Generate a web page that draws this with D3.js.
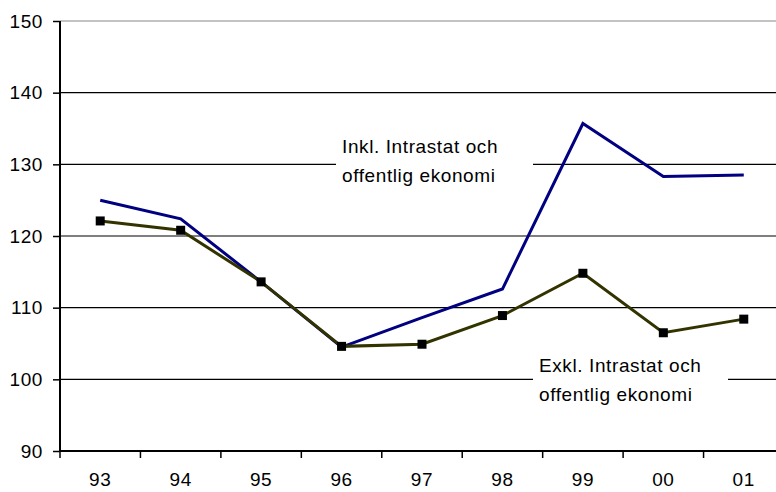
<!DOCTYPE html>
<html>
<head>
<meta charset="utf-8">
<script src="https://cdn.jsdelivr.net/npm/d3@7"></script>
<style>
  html, body { margin: 0; padding: 0; background: #fff; }
  svg { display: block; font-family: "Liberation Sans", Arial, sans-serif; }
</style>
</head>
<body>
<svg id="chart" width="776" height="492"></svg>
<script>
// Data
const years     = ["93", "94", "95", "96", "97", "98", "99", "00", "01"];
const inkl      = [125.0, 122.4, 113.6, 104.5, 108.6, 112.6, 135.7, 128.3, 128.5];
const exkl      = [122.1, 120.8, 113.6, 104.6, 104.9, 108.9, 114.8, 106.5, 108.4];
const yTicks    = [90, 100, 110, 120, 130, 140, 150];
const gridVals  = [100, 110, 120, 130, 140];
const labelInkl = ["Inkl. Intrastat och", "offentlig ekonomi"];
const labelExkl = ["Exkl. Intrastat och", "offentlig ekonomi"];

const svg = d3.select("#chart");
const plotL = 60, plotR = 784, plotT = 21, plotB = 451;

const x = d3.scaleBand().domain(years).range([plotL, plotR]);
const y = d3.scaleLinear().domain([90, 150]).range([plotB, plotT]);
const cx = d => x(d) + x.bandwidth() / 2;

// 1) Gridlines
svg.append("g").selectAll("line")
  .data(gridVals)
  .enter().append("line")
    .attr("x1", plotL).attr("x2", plotR)
    .attr("y1", d => y(d)).attr("y2", d => y(d))
    .attr("stroke", "#000").attr("stroke-width", 1.2);

// top border of plot area
svg.append("line")
  .attr("x1", plotL).attr("x2", plotR)
  .attr("y1", y(150)).attr("y2", y(150))
  .attr("stroke", "#888").attr("stroke-width", 1.2);

// 2) Axes
const yAxis = svg.append("g")
  .attr("transform", `translate(${plotL},0)`)
  .call(d3.axisLeft(y).tickValues(yTicks).tickSize(7).tickPadding(10).tickFormat(d3.format("d")));
yAxis.select(".domain").attr("stroke-width", 2).attr("d", `M0,${plotT}V${plotB}`);
yAxis.selectAll(".tick line").attr("stroke-width", 1.5);
yAxis.selectAll("text").attr("font-size", 19).attr("letter-spacing", 0.6).attr("fill", "#000")
  .attr("font-family", "Liberation Sans, Arial, sans-serif");

const xAxis = svg.append("g")
  .attr("transform", `translate(0,${plotB})`)
  .call(d3.axisBottom(x).tickSize(0).tickPadding(22));
xAxis.select(".domain").attr("stroke-width", 2).attr("d", `M${plotL},0H${plotR}`);
xAxis.selectAll("text").attr("font-size", 19).attr("letter-spacing", 0.6).attr("fill", "#000")
  .attr("font-family", "Liberation Sans, Arial, sans-serif");

// category separator ticks
svg.append("g").selectAll("line")
  .data(years)
  .enter().append("line")
    .attr("x1", d => x(d)).attr("x2", d => x(d))
    .attr("y1", plotB).attr("y2", plotB + 7)
    .attr("stroke", "#000").attr("stroke-width", 1.5);

// 3) Label boxes (white, covering gridlines)
function label(lines, x0, y0, gap0, gap1) {
  svg.append("rect")
    .attr("x", gap0).attr("y", y0 - 18)
    .attr("width", gap1 - gap0).attr("height", 52)
    .attr("fill", "#fff");
  const t = svg.append("text")
    .attr("font-size", 19).attr("letter-spacing", 0.6).attr("fill", "#000");
  lines.forEach((s, i) => {
    t.append("tspan").attr("x", x0).attr("y", y0 + i * 28.5).text(s);
  });
}
label(labelInkl, 342, 153, 336, 533);
label(labelExkl, 539, 372, 533, 728);

// 4) Lines
const line = d3.line()
  .x((d, i) => cx(years[i]))
  .y(d => y(d));

svg.append("path")
  .datum(inkl)
  .attr("fill", "none")
  .attr("stroke", "#000080")
  .attr("stroke-width", 3)
  .attr("d", line);

svg.append("path")
  .datum(exkl)
  .attr("fill", "none")
  .attr("stroke", "#333300")
  .attr("stroke-width", 3)
  .attr("d", line);

// 5) Markers
svg.append("g").selectAll("rect")
  .data(exkl)
  .enter().append("rect")
    .attr("x", (d, i) => cx(years[i]) - 4.5)
    .attr("y", d => y(d) - 4.5)
    .attr("width", 9).attr("height", 9)
    .attr("fill", "#000");
</script>
</body>
</html>
